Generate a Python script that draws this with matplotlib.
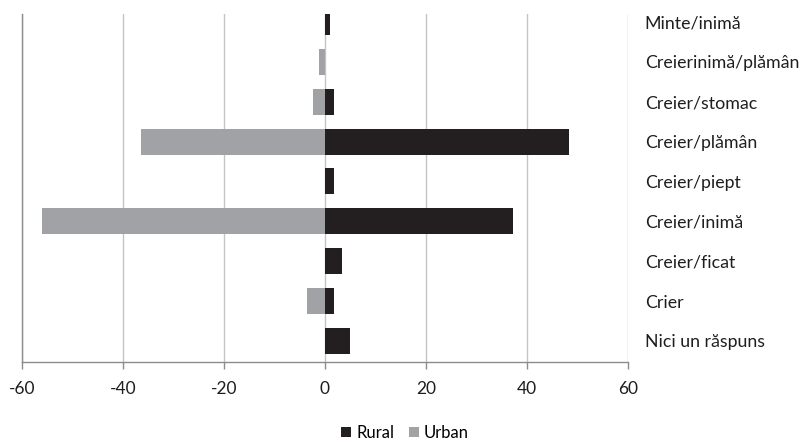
import matplotlib
matplotlib.use("Agg")
import matplotlib.pyplot as plt
from matplotlib.patches import Patch

categories = ["Minte/inimă", "Creierinimă/plămân", "Creier/stomac", "Creier/plămân",
              "Creier/piept", "Creier/inimă", "Creier/ficat", "Crier", "Nici un răspuns"]
rural = [1.0, 0.0, 1.8, 48.4, 1.7, 37.3, 3.4, 1.7, 5.0]
urban = [0.0, -1.1, -2.4, -36.5, 0.0, -56.0, 0.0, -3.5, 0.0]
xticks = [-60, -40, -20, 0, 20, 40, 60]

RURAL_C = "#231f20"
URBAN_C = "#a0a2a5"
FONT = "Lato"
TEXT_C = "#1e1e1e"

fig = plt.figure(figsize=(8.08, 4.41), dpi=100)
ax = fig.add_axes([22 / 808, 1 - 362 / 441, 606 / 808, 348 / 441])

n = len(categories)
ypos = [n - 1 - i for i in range(n)]
h = 0.65
ax.barh(ypos, urban, height=h, color=URBAN_C, zorder=3)
ax.barh(ypos, rural, height=h, color=RURAL_C, zorder=3)

ax.set_xlim(-60, 60)
ax.set_ylim(-0.53, 8.2)
ax.set_xticks(xticks)
ax.set_xticklabels([str(v) for v in xticks], fontfamily=FONT, fontsize=12.5, color=TEXT_C)
ax.grid(axis="x", color="#c4c4c4", linewidth=1.0, zorder=0)
ax.grid(axis="y", visible=False)

ax.yaxis.tick_right()
ax.set_yticks(ypos)
ax.set_yticklabels(categories, fontfamily=FONT, fontsize=12.8, color=TEXT_C)
ax.tick_params(axis="y", length=0, pad=12)
ax.tick_params(axis="x", length=5, width=1, color="#8c8c8c", direction="out", pad=9)

for s in ["top", "right"]:
    ax.spines[s].set_visible(False)
ax.spines["left"].set_color("#8c8c8c")
ax.spines["bottom"].set_color("#8c8c8c")
ax.spines["left"].set_linewidth(1.0)
ax.spines["bottom"].set_linewidth(1.0)

handles = [Patch(facecolor=RURAL_C, label="Rural"), Patch(facecolor=URBAN_C, label="Urban")]
fig.legend(handles=handles, loc="center", bbox_to_anchor=(405 / 808, 1 - 433 / 441), ncol=2,
           frameon=False, prop={"family": FONT, "size": 12}, handlelength=0.6, handleheight=0.6,
           handletextpad=0.3, columnspacing=0.9)

fig.savefig("out.png", dpi=100)
